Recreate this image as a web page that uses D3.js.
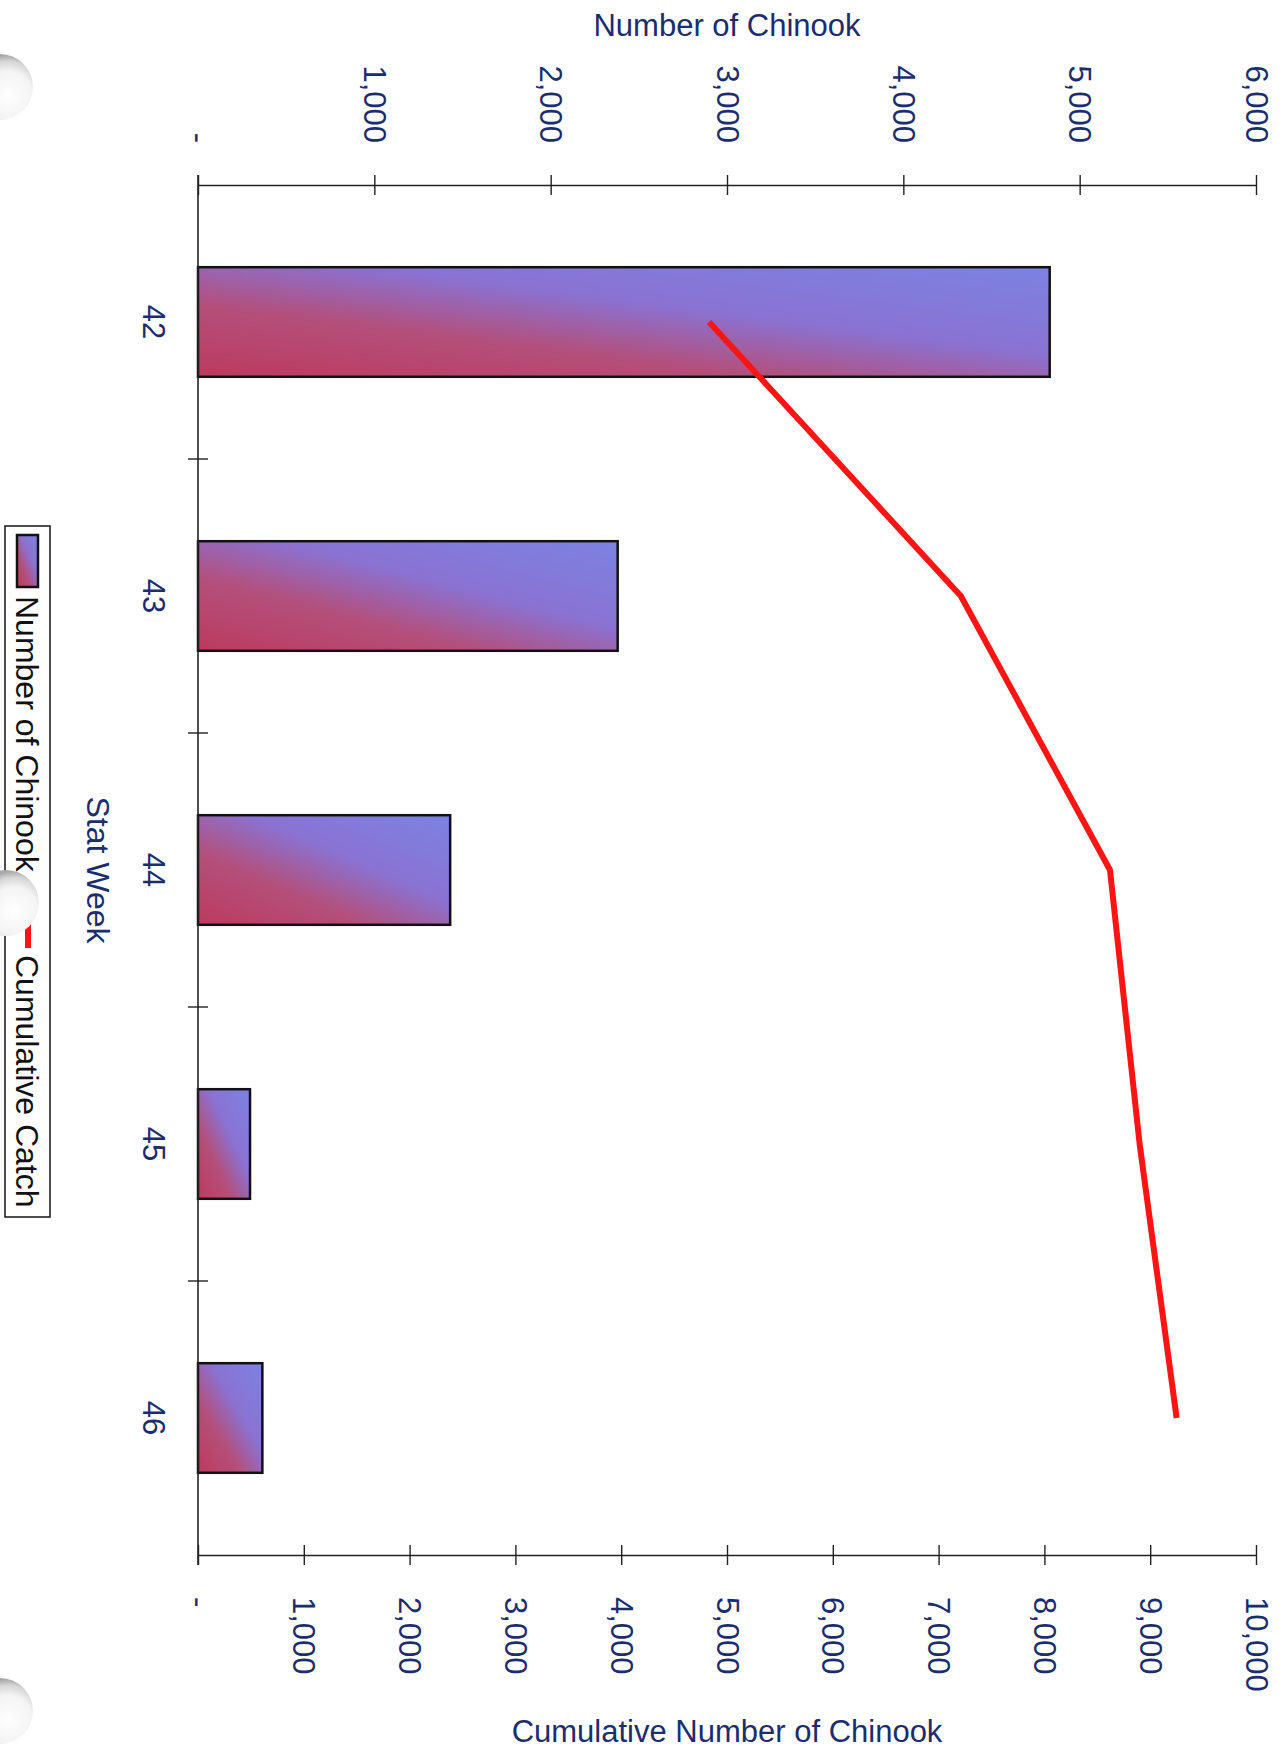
<!DOCTYPE html>
<html>
<head>
<meta charset="utf-8">
<script src="https://cdn.jsdelivr.net/npm/d3@7/dist/d3.min.js"></script>
<style>
  html, body { margin: 0; padding: 0; background: #ffffff; }
  svg { display: block; }
  text { font-family: "Liberation Sans", Arial, sans-serif; }
</style>
</head>
<body>
<script>
// ---- data ----
const weeks = ["42", "43", "44", "45", "46"];
const chinook = [4830, 2380, 1430, 295, 365];
const cumulative = [4830, 7210, 8620, 8900, 9250];
const topTicks = [0, 1000, 2000, 3000, 4000, 5000, 6000];
const bottomTicks = [0, 1000, 2000, 3000, 4000, 5000, 6000, 7000, 8000, 9000, 10000];
const topTitle = "Number of Chinook";
const bottomTitle = "Cumulative Number of Chinook";
const catTitle = "Stat Week";
const legendLabels = ["Number of Chinook", "Cumulative Catch"];

// ---- layout ----
const W = 1284, H = 1750;
const textColor = "#1a2d6e";
const fmt = d => d === 0 ? "-" : d3.format(",")(d);

const svg = d3.select("body").append("svg").attr("width", W).attr("height", H);
svg.append("rect").attr("width", W).attr("height", H).attr("fill", "#fff");

const defs = svg.append("defs");
const grad = defs.append("linearGradient").attr("id", "barGrad")
  .attr("x1", 0).attr("y1", 1).attr("x2", 1).attr("y2", 0);
[[0, "#bd3a5e"], [0.33, "#b44f7a"], [0.6, "#8a72d2"], [1, "#7c82e2"]]
  .forEach(([o, c]) => grad.append("stop").attr("offset", o).attr("stop-color", c));

const hole = defs.append("radialGradient").attr("id", "holeGrad")
  .attr("cx", 0.62).attr("cy", 0.62).attr("r", 0.6);
[[0, "#ffffff"], [0.6, "#f4f4f4"], [0.85, "#d6d6d6"], [1, "#a8a8a8"]]
  .forEach(([o, c]) => hole.append("stop").attr("offset", o).attr("stop-color", c));

const plotL = 198, plotR = 1256, plotT = 185, plotB = 1555;

const y = d3.scaleBand().domain(weeks).range([plotT, plotB]).paddingInner(0.6).paddingOuter(0.3);
const xTop = d3.scaleLinear().domain([0, 6000]).range([plotL, plotR]);
const xBot = d3.scaleLinear().domain([0, 10000]).range([plotL, plotR]);

// bars
svg.append("g").selectAll("rect").data(weeks).join("rect")
  .attr("x", xTop(0))
  .attr("y", d => y(d))
  .attr("width", (d, i) => xTop(chinook[i]) - xTop(0))
  .attr("height", y.bandwidth())
  .attr("fill", "url(#barGrad)")
  .attr("stroke", "#111")
  .attr("stroke-width", 2.5);

// cumulative line
const line = d3.line().x(d => xBot(d[1])).y(d => y(d[0]) + y.bandwidth() / 2);
svg.append("path").datum(weeks.map((w, i) => [w, cumulative[i]]))
  .attr("d", line)
  .attr("fill", "none")
  .attr("stroke", "#ff1414")
  .attr("stroke-width", 6)
  .attr("stroke-linejoin", "round");

// top axis
const gTop = svg.append("g").attr("transform", `translate(0,${plotT})`)
  .call(d3.axisTop(xTop).tickValues(topTicks).tickFormat(fmt).tickSize(10).tickSizeOuter(0));
gTop.select(".domain").attr("stroke", "#222").attr("stroke-width", 1.6);
gTop.selectAll(".tick line").attr("y1", 10).attr("y2", -10).attr("stroke", "#222").attr("stroke-width", 1.4);
gTop.selectAll(".tick text")
  .attr("x", 0).attr("y", 0).attr("dy", "0.35em")
  .attr("transform", "translate(0,-42) rotate(90)")
  .attr("text-anchor", "end")
  .attr("fill", textColor).attr("font-size", 31);

// bottom axis
const gBot = svg.append("g").attr("transform", `translate(0,${plotB})`)
  .call(d3.axisBottom(xBot).tickValues(bottomTicks).tickFormat(fmt).tickSize(10).tickSizeOuter(0));
gBot.select(".domain").attr("stroke", "#222").attr("stroke-width", 1.6);
gBot.selectAll(".tick line").attr("y1", -10).attr("y2", 10).attr("stroke", "#222").attr("stroke-width", 1.4);
gBot.selectAll(".tick text")
  .attr("x", 0).attr("y", 0).attr("dy", "0.35em")
  .attr("transform", "translate(0,42) rotate(90)")
  .attr("text-anchor", "start")
  .attr("fill", textColor).attr("font-size", 31);

// category axis
const gCat = svg.append("g").attr("transform", `translate(${plotL},0)`)
  .call(d3.axisLeft(y).tickSize(0).tickSizeOuter(0));
gCat.select(".domain").remove();
gCat.append("line").attr("x1", 0).attr("x2", 0).attr("y1", plotT - 10).attr("y2", plotB + 10)
  .attr("stroke", "#222").attr("stroke-width", 1.6);
gCat.selectAll(".tick text")
  .attr("x", 0).attr("y", 0).attr("dy", "0.35em")
  .attr("transform", "translate(-44,0) rotate(90)")
  .attr("text-anchor", "middle")
  .attr("fill", textColor).attr("font-size", 31);
const gap = y.step() * y.paddingInner() / 2;
gCat.selectAll(".sep").data(weeks.slice(1)).join("line").attr("class", "sep")
  .attr("x1", -10).attr("x2", 10)
  .attr("y1", d => y(d) - gap).attr("y2", d => y(d) - gap)
  .attr("stroke", "#222").attr("stroke-width", 1.4);

// titles
svg.append("text").attr("x", (plotL + plotR) / 2).attr("y", 36)
  .attr("text-anchor", "middle").attr("fill", textColor).attr("font-size", 31).text(topTitle);
svg.append("text").attr("x", (plotL + plotR) / 2).attr("y", 1742)
  .attr("text-anchor", "middle").attr("fill", textColor).attr("font-size", 31).text(bottomTitle);
svg.append("text").attr("transform", `translate(98,${(plotT + plotB) / 2}) rotate(90)`)
  .attr("dy", "0.35em").attr("text-anchor", "middle").attr("fill", textColor)
  .attr("font-size", 32).text(catTitle);

// legend
const lg = svg.append("g");
lg.append("rect").attr("x", 5).attr("y", 526).attr("width", 45).attr("height", 691)
  .attr("fill", "#fff").attr("stroke", "#222").attr("stroke-width", 1.6);
lg.append("rect").attr("x", 17).attr("y", 535).attr("width", 21).attr("height", 52)
  .attr("fill", "url(#barGrad)").attr("stroke", "#111").attr("stroke-width", 2.5);
lg.append("text").attr("transform", "translate(27,596) rotate(90)").attr("dy", "0.35em")
  .attr("text-anchor", "start").attr("fill", "#111").attr("font-size", 32).text(legendLabels[0]);
lg.append("line").attr("x1", 28).attr("x2", 28).attr("y1", 893).attr("y2", 948)
  .attr("stroke", "#ff1414").attr("stroke-width", 6);
lg.append("text").attr("transform", "translate(27,955) rotate(90)").attr("dy", "0.35em")
  .attr("text-anchor", "start").attr("fill", "#111").attr("font-size", 32).text(legendLabels[1]);

// punch holes of the scanned page
[[0, 87], [6, 903], [0, 1711]].forEach(([cx, cy]) => {
  svg.append("circle").attr("cx", cx).attr("cy", cy).attr("r", 33)
    .attr("fill", "url(#holeGrad)");
});
</script>
</body>
</html>
